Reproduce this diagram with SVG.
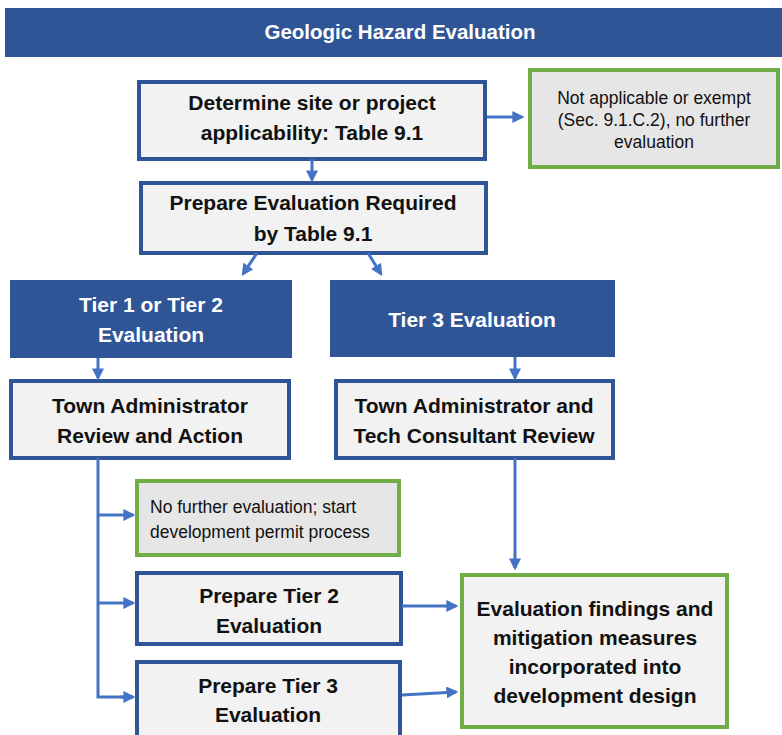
<svg xmlns="http://www.w3.org/2000/svg" width="782" height="735" viewBox="0 0 782 735">
<defs>
<style>
.t{font-family:"Liberation Sans",Arial,sans-serif;font-weight:bold;text-anchor:middle;fill:#111}
.w{fill:#fff}
.s{font-weight:normal;font-size:17.5px}
.bx{fill:#F2F2F2;stroke:#2F5597;stroke-width:4}
.gx{fill:#E7E6E6;stroke:#70AD47;stroke-width:4}
.dk{fill:#2F5597}
.c{fill:none;stroke:#4472C4;stroke-width:3}
</style>
<marker id="ah" viewBox="0 0 10 10" refX="8" refY="5" markerWidth="4" markerHeight="4" orient="auto" markerUnits="strokeWidth">
<path d="M0,0 L10,5 L0,10 z" fill="#4472C4"/>
</marker>
</defs>
<rect width="782" height="735" fill="#fff"/>
<g id="header">
<rect x="5" y="8" width="782" height="49" class="dk"/>
<text x="400" y="39" class="t w" font-size="20.5">Geologic Hazard Evaluation</text>
</g>
<g id="applicability">
<rect x="139" y="82" width="346" height="77" class="bx"/>
<text x="312" y="110" class="t" font-size="21">Determine site or project</text>
<text x="312" y="140" class="t" font-size="21">applicability: Table 9.1</text>
</g>
<g id="exempt">
<rect x="530" y="70" width="248" height="97" class="gx"/>
<text x="654" y="104" class="t s">Not applicable or exempt</text>
<text x="654" y="126" class="t s">(Sec. 9.1.C.2), no further</text>
<text x="654" y="148" class="t s">evaluation</text>
</g>
<g id="prepare">
<rect x="141" y="183" width="345" height="70" class="bx"/>
<text x="313" y="210" class="t" font-size="21">Prepare Evaluation Required</text>
<text x="313" y="241" class="t" font-size="21">by Table 9.1</text>
</g>
<g id="tier12">
<rect x="10" y="280" width="282" height="78" class="dk"/>
<text x="151" y="312" class="t w" font-size="21">Tier 1 or Tier 2</text>
<text x="151" y="342" class="t w" font-size="21">Evaluation</text>
</g>
<g id="tier3">
<rect x="330" y="280" width="285" height="77" class="dk"/>
<text x="472" y="327" class="t w" font-size="21">Tier 3 Evaluation</text>
</g>
<g id="ta-review">
<rect x="11" y="381" width="278" height="77" class="bx"/>
<text x="150" y="413" class="t" font-size="21">Town Administrator</text>
<text x="150" y="443" class="t" font-size="21">Review and Action</text>
</g>
<g id="ta-consultant">
<rect x="336" y="381" width="277" height="77" class="bx"/>
<text x="474" y="413" class="t" font-size="21">Town Administrator and</text>
<text x="474" y="443" class="t" font-size="21">Tech Consultant Review</text>
</g>
<g id="no-further">
<rect x="137" y="481" width="262" height="74" class="gx"/>
<text x="150" y="513" class="t s" style="text-anchor:start">No further evaluation; start</text>
<text x="150" y="538" class="t s" style="text-anchor:start">development permit process</text>
</g>
<g id="prep-tier2">
<rect x="137" y="573" width="264" height="71" class="bx"/>
<text x="269" y="603" class="t" font-size="21">Prepare Tier 2</text>
<text x="269" y="633" class="t" font-size="21">Evaluation</text>
</g>
<g id="prep-tier3">
<rect x="137" y="662" width="263" height="80" class="bx"/>
<text x="268" y="693" class="t" font-size="21">Prepare Tier 3</text>
<text x="268" y="722" class="t" font-size="21">Evaluation</text>
</g>
<g id="findings">
<rect x="462" y="575" width="265" height="152" class="gx" style="fill:#F2F2F2"/>
<text x="595" y="616" class="t" font-size="21">Evaluation findings and</text>
<text x="595" y="645" class="t" font-size="21">mitigation measures</text>
<text x="595" y="674" class="t" font-size="21">incorporated into</text>
<text x="595" y="703" class="t" font-size="21">development design</text>
</g>
<g id="connectors">
<path class="c" d="M487,117 H522" marker-end="url(#ah)"/>
<path class="c" d="M312,159 V180" marker-end="url(#ah)"/>
<path class="c" d="M257,253 L243,274" marker-end="url(#ah)"/>
<path class="c" d="M368,253 L381,274" marker-end="url(#ah)"/>
<path class="c" d="M98,358 V378" marker-end="url(#ah)"/>
<path class="c" d="M515,357 V378" marker-end="url(#ah)"/>
<path class="c" d="M98,458 V697 H133"/>
<path class="c" d="M98,515 H133" marker-end="url(#ah)"/>
<path class="c" d="M98,603 H133" marker-end="url(#ah)"/>
<path class="c" d="M120,697 H133" marker-end="url(#ah)"/>
<path class="c" d="M515,458 V568" marker-end="url(#ah)"/>
<path class="c" d="M402,606 H456" marker-end="url(#ah)"/>
<path class="c" d="M402,695 L456,692" marker-end="url(#ah)"/>
</g>
</svg>
